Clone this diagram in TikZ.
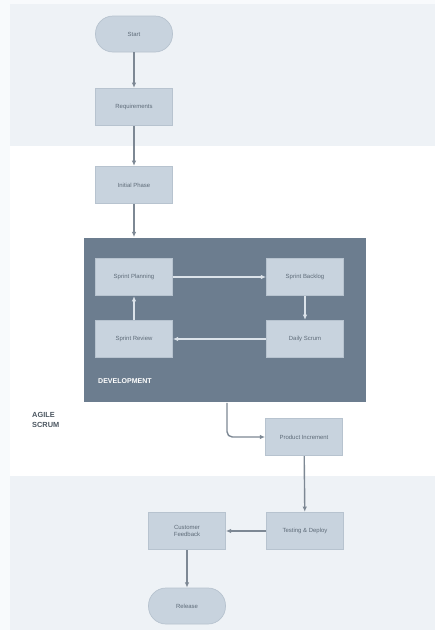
\documentclass[tikz,border=0pt]{standalone}
\usepackage{fontspec}
\setmainfont{Liberation Sans}
\usepackage{tikz}
\usetikzlibrary{arrows.meta, positioning, backgrounds}
\usepackage{xcolor}
\definecolor{bandgray}{HTML}{EEF2F6}
\definecolor{pagegray}{HTML}{F8FAFC}
\definecolor{boxfill}{HTML}{C8D3DE}
\definecolor{boxline}{HTML}{B7C3CF}
\definecolor{devfill}{HTML}{6C7D8F}
\definecolor{linegray}{HTML}{7D8894}
\definecolor{innerline}{HTML}{DCE3EA}
\definecolor{textgray}{HTML}{5E6B78}

\begin{document}
\begin{tikzpicture}[
    x=0.02cm, y=-0.02cm,
    stepbox/.style={rectangle, draw=boxline, fill=boxfill, minimum width=1.54cm, minimum height=0.75cm, align=center, text=textgray, font=\fontsize{3.4}{4.2}\selectfont},
    terminal/.style={rectangle, rounded corners=0.35cm, draw=boxline, fill=boxfill, minimum width=1.54cm, minimum height=0.72cm, text=textgray, font=\fontsize{3.4}{4.2}\selectfont},
    flow/.style={-{Latex[length=3pt,width=2.5pt]}, draw=linegray, line width=0.8pt},
    innerflow/.style={-{Latex[length=3pt,width=2.5pt]}, draw=innerline, line width=0.9pt}
]
    % background bands
    \fill[pagegray] (0,0) rectangle (435,630);
    \fill[bandgray] (10,4) rectangle (435,146);
    \fill[white] (10,146) rectangle (435,476);
    \fill[bandgray] (10,476) rectangle (435,630);
    \useasboundingbox (0,0) rectangle (435,630);

    \node[terminal] (start) at (134,34) {Start};
    \node[stepbox] (req) at (134,107) {Requirements};
    \node[stepbox] (init) at (134,185) {Initial Phase};

    % development block
    \node[rectangle, fill=devfill, minimum width=5.66cm, minimum height=3.3cm] (dev) at (225,320) {};
    \node[anchor=south west, text=white, font=\fontsize{4}{5}\selectfont\bfseries] (devlabel) at (92,390) {DEVELOPMENT};
    \node[stepbox] (plan) at (134,277) {Sprint Planning};
    \node[stepbox] (backlog) at (305,277) {Sprint Backlog};
    \node[stepbox] (review) at (134,339) {Sprint Review};
    \node[stepbox] (daily) at (305,339) {Daily Scrum};

    \node[anchor=north west, align=left, text=textgray!80!black, font=\fontsize{4.2}{6}\selectfont\bfseries] (agile) at (26,406) {AGILE\\SCRUM};

    \node[stepbox] (incr) at (304,437) {Product Increment};
    \node[stepbox] (test) at (305,531) {Testing \& Deploy};
    \node[stepbox] (feed) at (187,531) {Customer\\Feedback};
    \node[terminal] (end) at (187,606) {Release};

    \draw[flow] (start) -- (req);
    \draw[flow] (req) -- (init);
    \draw[flow] (init) -- (init |- dev.north);
    \draw[innerflow] (plan) -- (backlog);
    \draw[innerflow] (backlog) -- (daily);
    \draw[innerflow] (daily) -- (review);
    \draw[innerflow] (review) -- (plan);
    \draw[flow, rounded corners=3pt] (dev.south) ++(2,0) |- (incr.west);
    \draw[flow] (incr) -- (test);
    \draw[flow] (test) -- (feed);
    \draw[flow] (feed) -- (end);
\end{tikzpicture}
\end{document}
